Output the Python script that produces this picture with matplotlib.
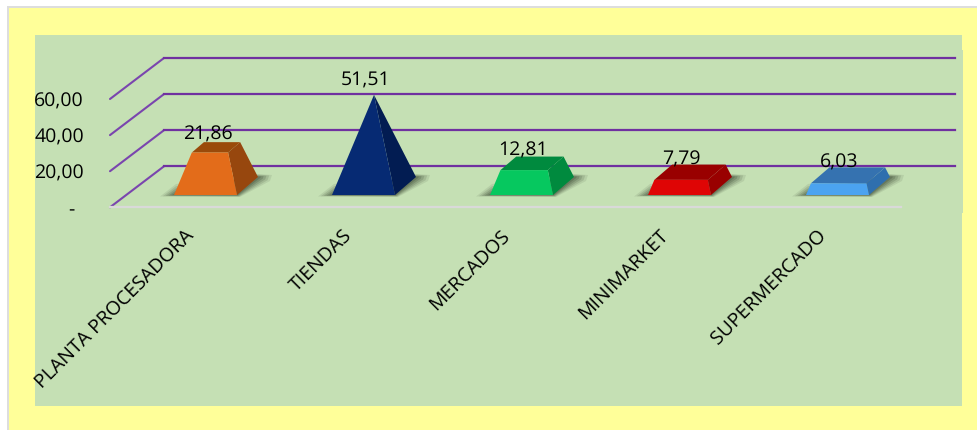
import matplotlib
matplotlib.use('Agg')
from matplotlib import pyplot as plt
from matplotlib.patches import Polygon, Rectangle

plt.rcParams['font.family'] = ['Open Sans', 'DejaVu Sans']
plt.rcParams['text.hinting'] = 'no_hinting'

categorias = ['PLANTA PROCESADORA', 'TIENDAS', 'MERCADOS', 'MINIMARKET', 'SUPERMERCADO']
valores = [21.86, 51.51, 12.81, 7.79, 6.03]
etiquetas = ['21,86', '51,51', '12,81', '7,79', '6,03']
ticks = [0, 20, 40, 60]
tick_labels = ['-', '20,00', '40,00', '60,00']

cor_frente = ['#E36C1A', '#062A73', '#06C85F', '#DF0505', '#4BA3F0']
cor_lado = ['#97470E', '#021C52', '#008A3E', '#990000', '#2F6FAE']
cor_topo = ['#9A4A0A', '#021C52', '#008A3E', '#990000', '#3572B0']

W, H = 978, 430
PX_X = 158.0  # pixels por categoria
PX_Y = 1.805  # pixels por unidade do eixo y
X0_PX = 205.5  # pixel da categoria 0
Y0_PX = 207.3  # pixel do valor 0 na parede da frente

fig = plt.figure(figsize=(W / 100, H / 100), dpi=100, facecolor='white')
ax = fig.add_axes([0, 0, 1, 1])
ax.set_xlim(-X0_PX / PX_X, (W - X0_PX) / PX_X)
ax.set_ylim((Y0_PX - H) / PX_Y, Y0_PX / PX_Y)
ax.axis('off')


def fundo(x0, y0, x1, y1, cor, **kw):  # retangulo em pixels da imagem
    fig.add_artist(Rectangle((x0 / W, 1 - y1 / H), (x1 - x0) / W, (y1 - y0) / H,
                             transform=fig.transFigure, facecolor=cor, edgecolor='none', **kw))


fundo(7, 6, W, H, '#DDDDDD', zorder=-5)
fundo(9, 8, W, H, '#FFFF99', zorder=-4)
fundo(35, 35, 962, 406, '#C5E0B4', zorder=-3)
fundo(962, 50, 963, 213, '#C5E0B4', zorder=-3)

# paredes e grade
prof_x = 54 / PX_X
prof_y = 41 / PX_Y
esq = -95.5 / PX_X
dir_grade = 749.5 / PX_X
dir_chao = 695.5 / PX_X
roxo = '#7030A0'
for t in ticks:
    ax.plot([esq, esq + prof_x], [t, t + prof_y], color='#7A45AE', lw=1.5, zorder=2,
            solid_capstyle='round')
    ax.plot([esq + prof_x, dir_grade], [t + prof_y, t + prof_y], color=roxo, lw=1.6, zorder=2)
ax.plot([esq, dir_chao], [0, 0], color='#D9D9D9', lw=1.6, zorder=2)

# eixo y
for t, s in zip(ticks, tick_labels):
    if s == '-':
        ax.text(-134.5 / PX_X, t - 1.5, s, ha='center', va='center', fontsize=14, color='black')
    else:
        ax.text(-121.5 / PX_X, t - 1.5, s, ha='right', va='center', fontsize=14, color='black')

# barras (piramides cortadas)
base = 12.3 / PX_Y
meia = 31.5 / PX_X
dx = 21 / PX_X
dy = 18 / PX_Y
pico = max(valores)
sx = 1 / PX_X  # um pixel em unidades de dados
sy = 1 / PX_Y
for i, v in enumerate(valores):
    fl = (i - meia, base)
    fr = (i + meia, base)
    br = (i + meia + dx, base + dy)
    bl = (i - meia + dx, base + dy)
    centro = (i + dx / 2, base + dy / 2 + 0.98 * pico)
    t = v / pico


    def corte(p):
        return (p[0] + t * (centro[0] - p[0]), p[1] + t * (centro[1] - p[1]))


    # sombra no chao
    for k, a in zip([1.0, 0.8, 0.6, 0.4, 0.2], [0.10, 0.14, 0.18, 0.22, 0.26]):
        sombra = [(fl[0] - k * 14 * sx, fl[1] - 1.5 * k * sy),
                  (fr[0] + 3 * k * sx, fr[1] - 2 * k * sy),
                  (br[0] + 12 * k * sx, br[1] - 4 * k * sy),
                  (br[0] + 14 * k * sx, br[1] + 2 * k * sy),
                  (br[0], br[1] + 3 * k * sy),
                  (fl[0] + 2 * sx, fl[1] + 11 * k * sy)]
        ax.add_patch(Polygon(sombra, facecolor='#34402C', alpha=a, edgecolor='none', zorder=3))

    ax.add_patch(Polygon([fr, br, corte(br), corte(fr)], facecolor=cor_lado[i], edgecolor='none', zorder=4))
    if t < 1:
        ax.add_patch(Polygon([corte(fl), corte(fr), corte(br), corte(bl)],
                             facecolor=cor_topo[i], edgecolor='none', zorder=4))
    ax.add_patch(Polygon([fl, fr, corte(fr), corte(fl)], facecolor=cor_frente[i], edgecolor='none', zorder=5))

    ax.text(i + 2 * sx, v + 33.5 * sy, etiquetas[i], ha='center', va='center',
            fontsize=14, color='black', zorder=6)

# rotulos das categorias
for i, nome in enumerate(categorias):
    ax.text(i - 21 * sx, -10.5, nome, rotation=45, rotation_mode='anchor', ha='right', va='top',
            fontsize=14, color='black', zorder=6)

fig.savefig('out.png', dpi=100, facecolor=fig.get_facecolor())
